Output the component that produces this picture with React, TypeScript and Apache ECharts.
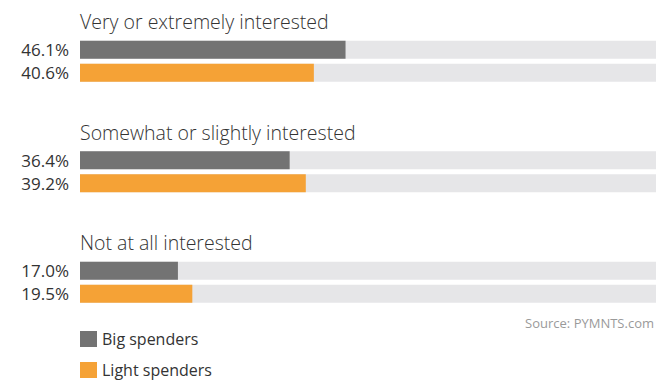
import React, { useEffect, useRef } from "react";
import * as echarts from "echarts";

const categories = [
  "Very or extremely interested",
  "Somewhat or slightly interested",
  "Not at all interested",
];
const bigSpenders = [46.1, 36.4, 17.0];
const lightSpenders = [40.6, 39.2, 19.5];
const seriesNames = ["Big spenders", "Light spenders"];
const sourceText = "Source: PYMNTS.com";

const FONT = "'Open Sans', sans-serif";

export default function App() {
  const ref = useRef<HTMLDivElement>(null);
  useEffect(() => {
    if (!ref.current) return;
    const chart = echarts.init(ref.current, undefined, { renderer: "svg" });
    const valueLabel = {
      show: true,
      position: "left" as const,
      distance: 11,
      formatter: (p: any) => Number(p.value).toFixed(1) + "%",
      color: "#333333",
      fontFamily: FONT,
      fontSize: 17,
    };
    chart.setOption({
      animation: false,
      textStyle: { fontFamily: FONT },
      title: {
        text: sourceText,
        right: 3,
        top: 316,
        padding: 0,
        textStyle: { fontSize: 13, fontWeight: "normal", color: "#9a9a9a", fontFamily: FONT },
      },
      legend: {
        orient: "vertical",
        left: 80,
        top: 331,
        height: 50,
        padding: 0,
        itemWidth: 17,
        itemHeight: 16,
        itemGap: 15,
        icon: "rect",
        data: seriesNames,
        textStyle: { fontSize: 16, lineHeight: 16, color: "#333333", fontFamily: FONT },
      },
      grid: {
        left: 80,
        right: 1,
        top: 6,
        height: 331.5,
        containLabel: false,
        outerBoundsMode: "none",
      },
      xAxis: {
        type: "value",
        min: 0,
        max: 100,
        show: false,
      },
      yAxis: {
        type: "category",
        inverse: true,
        data: categories,
        axisLine: { show: false },
        axisTick: { show: false },
        splitLine: { show: false },
        axisLabel: {
          inside: true,
          margin: 0,
          align: "left",
          verticalAlign: "bottom",
          lineHeight: 79,
          fontSize: 19.5,
          fontWeight: 300,
          color: "#333333",
          fontFamily: FONT,
        },
        z: 10,
      },
      series: [
        {
          name: seriesNames[0],
          type: "bar",
          data: bigSpenders,
          barWidth: 18,
          barGap: "28%",
          itemStyle: { color: "#737373" },
          showBackground: true,
          backgroundStyle: { color: "#e6e6e8" },
          label: valueLabel,
        },
        {
          name: seriesNames[1],
          type: "bar",
          data: lightSpenders,
          barWidth: 18,
          itemStyle: { color: "#f5a236" },
          showBackground: true,
          backgroundStyle: { color: "#e6e6e8" },
          label: valueLabel,
        },
      ],
    });
    return () => chart.dispose();
  }, []);
  return <div ref={ref} style={{ width: 657, height: 381, position: "absolute", left: 0, top: 0 }} />;
}
